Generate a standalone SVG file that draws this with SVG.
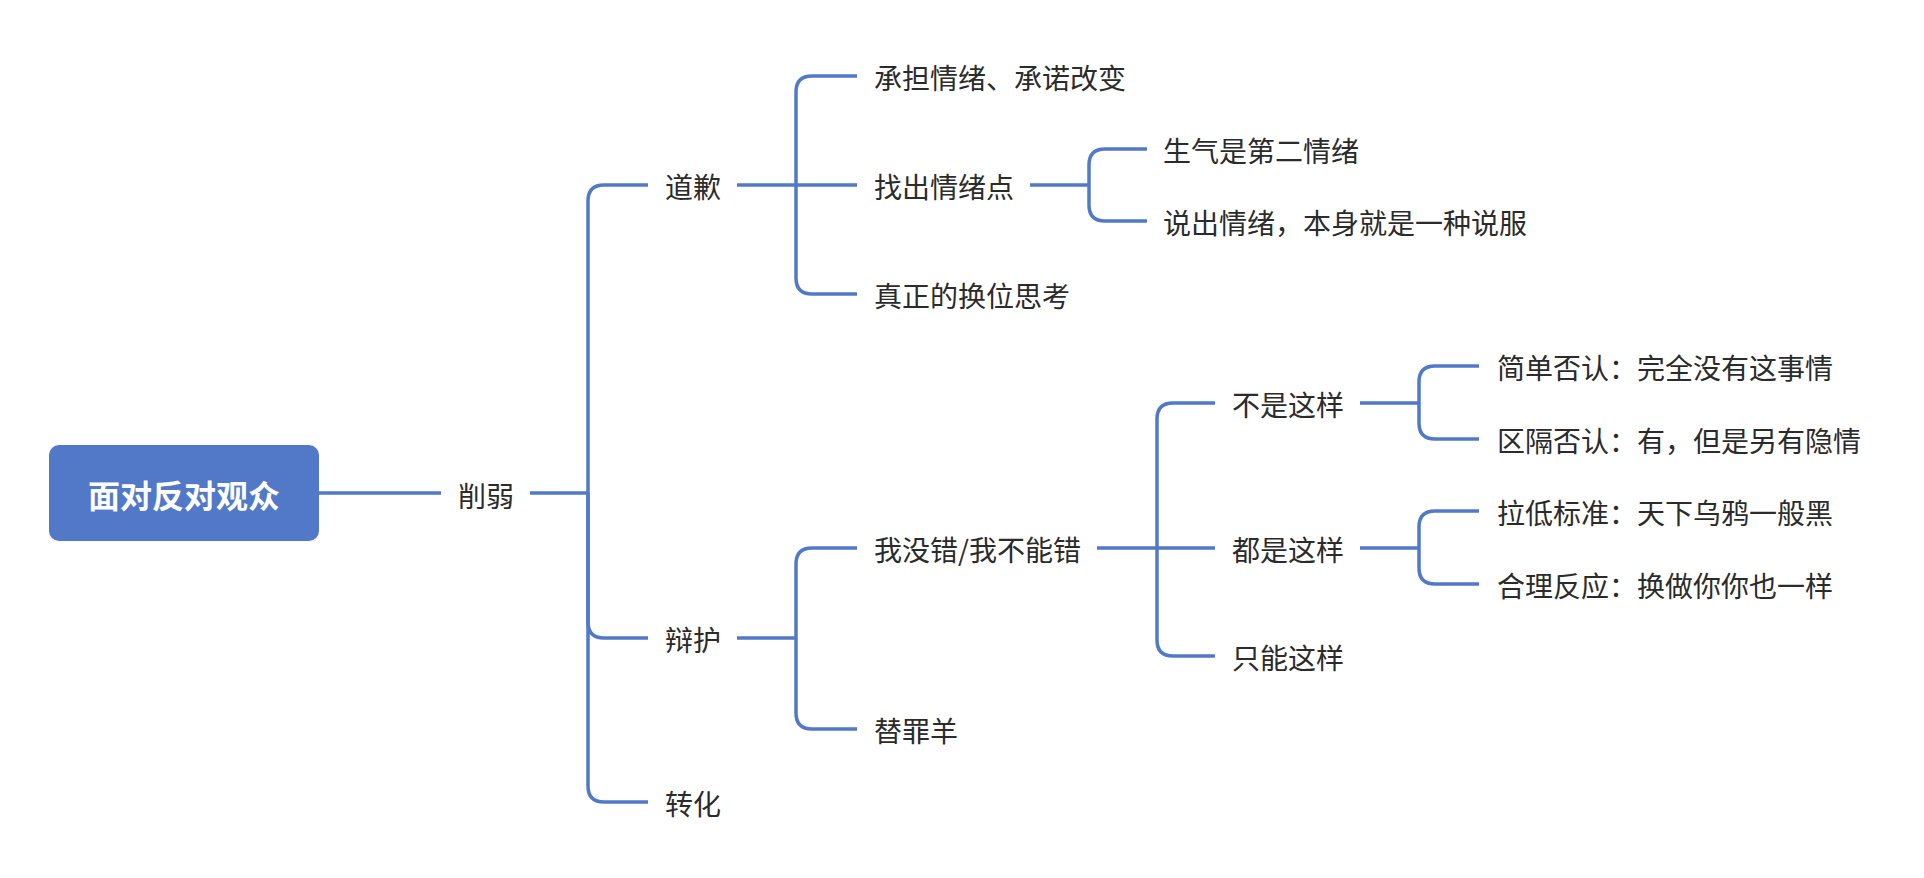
<svg xmlns="http://www.w3.org/2000/svg" width="1924" height="878" viewBox="0 0 1924 878">
<style>
.c{fill:none;stroke:#5179c8;stroke-width:3.5;stroke-linecap:butt}
.t{font-family:"Noto Sans CJK SC","Noto Sans",sans-serif;font-size:28px;fill:#2b2b2b;dominant-baseline:central}
.r{font-family:"Noto Sans CJK SC","Noto Sans",sans-serif;font-size:32px;font-weight:bold;fill:#ffffff;dominant-baseline:central;text-anchor:middle}
</style>
<rect width="1924" height="878" fill="#ffffff"/>
<g id="connectors">
<path class="c" d="M319 493 H441"/>
<path class="c" d="M530 493 H588"/>
<path class="c" d="M588 493 V201 Q588 185 604 185 H648"/>
<path class="c" d="M588 493 V622 Q588 638 604 638 H648"/>
<path class="c" d="M588 493 V786 Q588 802 604 802 H648"/>
<path class="c" d="M737 185 H796"/>
<path class="c" d="M796 185 V92 Q796 76 812 76 H857"/>
<path class="c" d="M796 185 H857"/>
<path class="c" d="M796 185 V278 Q796 294 812 294 H857"/>
<path class="c" d="M1030 185 H1089"/>
<path class="c" d="M1089 185 V165 Q1089 149 1105 149 H1147"/>
<path class="c" d="M1089 185 V205 Q1089 221 1105 221 H1147"/>
<path class="c" d="M737 638 H796"/>
<path class="c" d="M796 638 V564 Q796 548 812 548 H857"/>
<path class="c" d="M796 638 V713 Q796 729 812 729 H857"/>
<path class="c" d="M1097 548 H1157"/>
<path class="c" d="M1157 548 V419 Q1157 403 1173 403 H1215"/>
<path class="c" d="M1157 548 H1215"/>
<path class="c" d="M1157 548 V640 Q1157 656 1173 656 H1215"/>
<path class="c" d="M1360 403 H1419"/>
<path class="c" d="M1419 403 V382 Q1419 366 1435 366 H1479"/>
<path class="c" d="M1419 403 V423 Q1419 439 1435 439 H1479"/>
<path class="c" d="M1360 548 H1419"/>
<path class="c" d="M1419 548 V527 Q1419 511 1435 511 H1479"/>
<path class="c" d="M1419 548 V568 Q1419 584 1435 584 H1479"/>
</g>
<g id="root"><rect x="49" y="445" width="270" height="96" rx="10" fill="#5179c8"/><text class="r" x="184" y="494">面对反对观众</text></g>
<g id="n-xueruo"><text class="t" x="458" y="495">削弱</text></g>
<g id="n-daoqian"><text class="t" x="665" y="186">道歉</text></g>
<g id="n-bianhu"><text class="t" x="665" y="639">辩护</text></g>
<g id="n-zhuanhua"><text class="t" x="665" y="803">转化</text></g>
<g id="n-chengdan"><text class="t" x="874" y="77">承担情绪、承诺改变</text></g>
<g id="n-zhaochu"><text class="t" x="874" y="186">找出情绪点</text></g>
<g id="n-zhenzheng"><text class="t" x="874" y="295">真正的换位思考</text></g>
<g id="n-shengqi"><text class="t" x="1163" y="150">生气是第二情绪</text></g>
<g id="n-shuochu"><text class="t" x="1163" y="222">说出情绪，本身就是一种说服</text></g>
<g id="n-womeicuo"><text class="t" x="874" y="549">我没错/我不能错</text></g>
<g id="n-tizuiyang"><text class="t" x="874" y="730">替罪羊</text></g>
<g id="n-bushi"><text class="t" x="1232" y="404">不是这样</text></g>
<g id="n-doushi"><text class="t" x="1232" y="549">都是这样</text></g>
<g id="n-zhineng"><text class="t" x="1232" y="657">只能这样</text></g>
<g id="n-jiandan"><text class="t" x="1497" y="367">简单否认：完全没有这事情</text></g>
<g id="n-quge"><text class="t" x="1497" y="440">区隔否认：有，但是另有隐情</text></g>
<g id="n-ladi"><text class="t" x="1497" y="512">拉低标准：天下乌鸦一般黑</text></g>
<g id="n-heli"><text class="t" x="1497" y="585">合理反应：换做你你也一样</text></g>
</svg>
